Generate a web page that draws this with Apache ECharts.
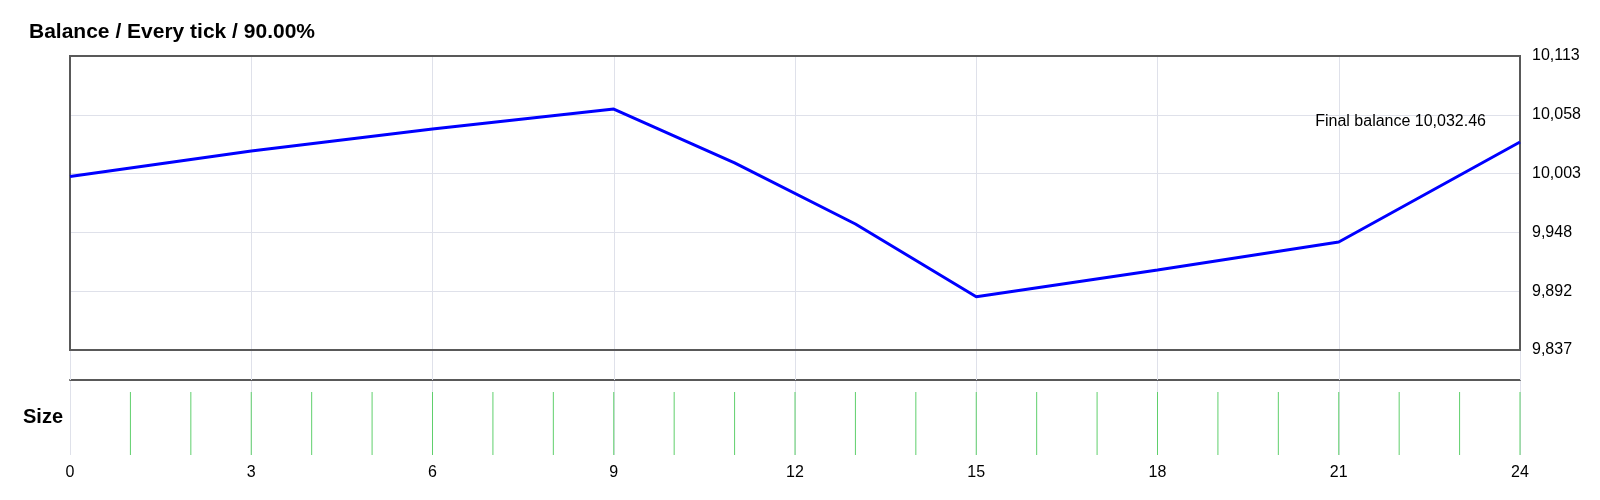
<!DOCTYPE html>
<html>
<head>
<meta charset="utf-8">
<script src="https://cdn.jsdelivr.net/npm/echarts@6/dist/echarts.min.js"></script>
<style>
html,body{margin:0;padding:0;background:#fff;}
#chart{width:1600px;height:500px;}
</style>
</head>
<body>
<div id="chart"></div>
<script>
// ---- data ----
const titleText = 'Balance / Every tick / 90.00%';
const balanceX = [0, 3, 6, 9, 11, 13, 15, 18, 21, 24];
const balanceY = [10000.0, 10024.0, 10044.7, 10063.4, 10012.8, 9955.5, 9887.2, 9912.3, 9938.6, 10032.46];
const sizeX = [1,2,3,4,5,6,7,8,9,10,11,12,13,14,15,16,17,18,19,20,21,22,23,24];
const sizeY = [0.1,0.1,0.1,0.1,0.1,0.1,0.1,0.1,0.1,0.1,0.1,0.1,0.1,0.1,0.1,0.1,0.1,0.1,0.1,0.1,0.1,0.1,0.1,0.1];
const xTicks = [0, 3, 6, 9, 12, 15, 18, 21, 24];
const yMin = 9837.2, yMax = 10113.2, yStep = 55.2;

const balanceData = balanceX.map((x, i) => [x, balanceY[i]]);
const sizeData = sizeX.map((x, i) => [x, sizeY[i]]);
const fmt = v => Math.round(v).toLocaleString('en-US');
const finalVal = balanceY[balanceY.length - 1];

const FONT = '"Liberation Sans", Arial, sans-serif';
const gridCol = '#dfe1ea';

const chart = echarts.init(document.getElementById('chart'));
chart.setOption({
  animation: false,
  backgroundColor: '#ffffff',
  textStyle: { fontFamily: FONT },
  title: {
    text: titleText, left: 24, top: 17,
    textStyle: { fontFamily: FONT, fontSize: 21, fontWeight: 'bold', color: '#000' }
  },
  graphic: [{
    type: 'text', x: 1486, y: 122, z: 100,
    style: {
      text: 'Final balance ' + finalVal.toLocaleString('en-US', {minimumFractionDigits: 2, maximumFractionDigits: 2}),
      font: '16px ' + FONT, fill: '#000', textAlign: 'right', textVerticalAlign: 'middle'
    }
  }],
  grid: [
    { left: 70, right: 80, top: 56, height: 294, show: true, borderColor: '#595959', borderWidth: 2, backgroundColor: 'transparent', z: 3 },
    { left: 70, right: 80, top: 380, height: 75 }
  ],
  xAxis: [
    { gridIndex: 0, type: 'value', min: 0, max: 24, interval: 3,
      axisLine: { show: false }, axisLabel: { show: false },
      axisTick: { show: true, length: 30, lineStyle: { color: gridCol, width: 1 } },
      splitLine: { show: true, showMinLine: false, showMaxLine: false, lineStyle: { color: gridCol, width: 1 } } },
    { gridIndex: 1, type: 'value', min: 0, max: 24, interval: 3, position: 'top',
      axisLine: { show: true, onZero: false, lineStyle: { color: '#595959', width: 2 } },
      axisLabel: { show: false }, axisTick: { show: false }, splitLine: { show: false } },
    { gridIndex: 1, type: 'value', min: 0, max: 24, interval: 3, position: 'bottom',
      axisLine: { show: false }, axisTick: { show: false },
      axisLabel: { show: true, fontSize: 16, color: '#000', margin: 10, fontFamily: FONT,
        customValues: xTicks },
      splitLine: { show: true, lineStyle: { color: gridCol, width: 1 } } }
  ],
  yAxis: [
    { gridIndex: 0, type: 'value', position: 'right', min: yMin, max: yMax, interval: yStep,
      axisLine: { show: false }, axisTick: { show: false },
      axisLabel: { fontSize: 16, color: '#000', margin: 12, fontFamily: FONT, formatter: v => fmt(v) },
      splitLine: { show: true, showMinLine: false, showMaxLine: false, lineStyle: { color: gridCol, width: 1 } } },
    { gridIndex: 1, type: 'value', min: 0, max: 0.119,
      name: 'Size', nameLocation: 'middle', nameRotate: 0, nameGap: 7,
      nameTextStyle: { fontSize: 20, fontWeight: 'bold', color: '#000', fontFamily: FONT, align: 'right', verticalAlign: 'middle' },
      axisLine: { show: false }, axisTick: { show: false }, axisLabel: { show: false }, splitLine: { show: false } }
  ],
  series: [
    { type: 'line', xAxisIndex: 0, yAxisIndex: 0, data: balanceData, symbol: 'none',
      lineStyle: { color: '#0000ff', width: 3 }, z: 5 },
    { type: 'bar', xAxisIndex: 2, yAxisIndex: 1, data: sizeData, barWidth: 1,
      itemStyle: { color: '#5fcf6c' }, z: 5 }
  ]
});
</script>
</body>
</html>
